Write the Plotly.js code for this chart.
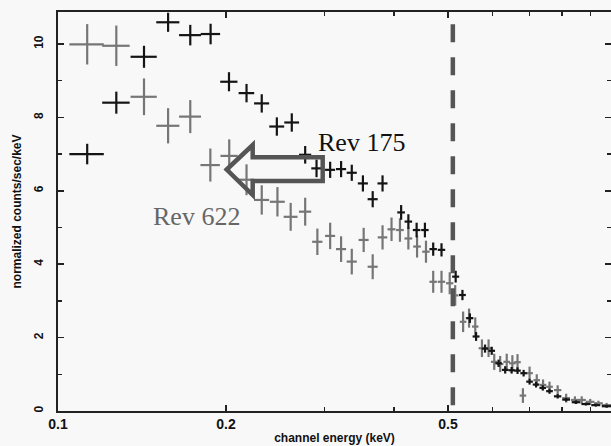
<!DOCTYPE html>
<html>
<head>
<meta charset="utf-8">
<script src="https://cdn.plot.ly/plotly-3.0.1.min.js"></script>
<style>html,body{margin:0;padding:0;background:#f8f8f8;}#chart{width:611px;height:446px;}</style>
</head>
<body>
<div id="chart"></div>
<script>
// Rev 175 (black)
const energy175 = [0.1128,0.1272,0.1426,0.1575,0.1726,0.1877,0.2025,0.2177,0.2318,0.2467,0.2624,0.2773,0.2906,0.3074,0.3216,0.3361,0.3519,0.3664,0.3816,0.4120,0.4245,0.4392,0.4545,0.4703,0.4867,0.5160,0.5306,0.5472,0.5613,0.5825,0.5988,0.6160,0.6330,0.6500,0.6660,0.6830,0.7000,0.7190,0.7390,0.7600,0.7860,0.8140,0.8480,0.8830,0.9200,0.9620];
const counts175 = [7.00,8.40,9.65,10.59,10.24,10.27,8.97,8.66,8.38,7.75,7.86,6.98,6.61,6.57,6.59,6.49,6.20,5.77,6.20,5.41,5.16,4.93,4.93,4.41,4.39,3.66,3.16,2.53,2.03,1.70,1.64,1.30,1.12,1.11,1.10,1.03,0.80,0.72,0.63,0.54,0.40,0.31,0.24,0.19,0.16,0.13];
const countsErr175 = [0.28,0.30,0.30,0.26,0.28,0.28,0.26,0.25,0.25,0.25,0.25,0.24,0.24,0.22,0.22,0.22,0.22,0.22,0.22,0.20,0.20,0.20,0.20,0.18,0.18,0.16,0.14,0.13,0.12,0.11,0.11,0.10,0.10,0.09,0.09,0.09,0.08,0.08,0.07,0.07,0.06,0.05,0.05,0.04,0.04,0.04];
const energyErr175 = [0.0080,0.0072,0.0077,0.0075,0.0078,0.0075,0.0072,0.0070,0.0072,0.0076,0.0080,0.0070,0.0062,0.0064,0.0067,0.0070,0.0073,0.0076,0.0079,0.0065,0.0066,0.0068,0.0070,0.0072,0.0075,0.0075,0.0075,0.0078,0.0080,0.0080,0.0082,0.0084,0.0086,0.0088,0.0090,0.0092,0.0095,0.0098,0.0100,0.0105,0.0120,0.0130,0.0150,0.0160,0.0170,0.0190];

// Rev 622 (grey)
const energy622 = [0.1128,0.1272,0.1426,0.1575,0.1726,0.1875,0.2027,0.2177,0.2318,0.2473,0.2612,0.2773,0.2916,0.3074,0.3216,0.3361,0.3530,0.3664,0.3816,0.3960,0.4100,0.4245,0.4400,0.4565,0.4703,0.4867,0.5035,0.5150,0.5321,0.5453,0.5594,0.5751,0.5910,0.6050,0.6200,0.6370,0.6520,0.6660,0.6810,0.7000,0.7210,0.7400,0.7600,0.7860,0.8140,0.8440,0.8680,0.8990,0.9300,0.9620];
const counts622 = [9.99,9.95,8.56,7.77,8.02,6.70,6.95,6.30,5.75,5.70,5.29,5.43,4.61,4.77,4.41,4.07,4.66,3.93,4.73,4.95,4.93,4.70,4.48,4.34,3.52,3.52,3.48,3.15,2.43,2.53,2.30,1.71,1.71,1.34,1.28,1.34,1.30,1.33,0.42,1.03,0.84,0.71,0.66,0.57,0.35,0.30,0.30,0.25,0.21,0.16];
const countsErr622 = [0.55,0.55,0.50,0.48,0.45,0.45,0.45,0.42,0.40,0.40,0.38,0.38,0.36,0.36,0.35,0.35,0.33,0.34,0.33,0.32,0.32,0.30,0.30,0.30,0.30,0.30,0.30,0.28,0.28,0.26,0.25,0.24,0.24,0.22,0.22,0.22,0.22,0.22,0.20,0.18,0.16,0.15,0.14,0.13,0.12,0.10,0.10,0.08,0.07,0.06];
const energyErr622 = [0.0080,0.0072,0.0077,0.0075,0.0078,0.0075,0.0072,0.0070,0.0072,0.0076,0.0075,0.0070,0.0062,0.0064,0.0067,0.0070,0.0073,0.0076,0.0075,0.0065,0.0065,0.0068,0.0070,0.0070,0.0072,0.0075,0.0075,0.0070,0.0072,0.0075,0.0075,0.0078,0.0080,0.0082,0.0084,0.0086,0.0088,0.0090,0.0092,0.0095,0.0098,0.0100,0.0105,0.0120,0.0130,0.0140,0.0150,0.0160,0.0170,0.0190];

const xTickVals = [0.1, 0.2, 0.5];
const xTickText = ['0.1', '0.2', '0.5'];
const xMinorVals = [0.3, 0.4, 0.6, 0.7, 0.8, 0.9];
const yTickVals = [0, 2, 4, 6, 8, 10];
const edgeEnergy = 0.51;
const label175 = 'Rev 175';
const label622 = 'Rev 622';

const BLACK = '#141414';
const GREY = '#767676';

function crossTrace(x, y, ex, ey, color) {
  return {
    type: 'scatter', mode: 'markers', x: x, y: y,
    marker: {size: 2, color: 'rgba(0,0,0,0)'},
    error_x: {type: 'data', array: ex, symmetric: true, color: color, thickness: 2.2, width: 0},
    error_y: {type: 'data', array: ey, symmetric: true, color: color, thickness: 2.2, width: 0},
    hoverinfo: 'skip', showlegend: false
  };
}

const data = [
  crossTrace(energy622, counts622, energyErr622, countsErr622, GREY),
  crossTrace(energy175, counts175, energyErr175, countsErr175, BLACK)
];

const W = 611, H = 446, L = 58, R = 0, T = 12, B = 35;
const pw = W - L - R, ph = H - T - B;
// helpers for annotation/arrow placement in paper units (decoration only)
const px = v => (v - L) / pw;
const py = v => (H - B - v) / ph;

const FONT = 'Liberation Sans, Arial, sans-serif';

const layout = {
  width: W, height: H,
  margin: {l: L, r: R, t: T, b: B, pad: 0},
  paper_bgcolor: '#f8f8f8', plot_bgcolor: '#f8f8f8',
  showlegend: false,
  xaxis: {
    type: 'log', range: [-1, -0.009],
    tickmode: 'array', tickvals: xTickVals, ticktext: xTickText,
    ticks: 'inside', ticklen: 6, tickwidth: 1.5, tickcolor: '#222',
    minor: {tickvals: xMinorVals, ticks: 'inside', ticklen: 4, tickwidth: 1.3, tickcolor: '#222', showgrid: false},
    showline: true, linecolor: '#222', linewidth: 1.8, mirror: 'allticks',
    showgrid: false, zeroline: false,
    tickfont: {family: FONT, size: 14, color: '#111', weight: 'bold'},
    ticklabelstandoff: -1,
    title: {text: 'channel energy (keV)', font: {family: FONT, size: 12, color: '#111', weight: 'bold'}, standoff: 3}
  },
  yaxis: {
    range: [0, 10.87],
    tickmode: 'array', tickvals: yTickVals,
    ticks: 'inside', ticklen: 6, tickwidth: 1.5, tickcolor: '#222',
    minor: {dtick: 1, ticks: 'inside', ticklen: 4, tickwidth: 1.3, tickcolor: '#222', showgrid: false},
    showline: true, linecolor: '#222', linewidth: 1.8, mirror: 'allticks',
    showgrid: false, zeroline: false,
    tickangle: -90,
    tickfont: {family: FONT, size: 12, color: '#111', weight: 'bold'},
    ticklabelstandoff: 8,
    title: {text: 'normalized counts/sec/keV', font: {family: FONT, size: 12, color: '#111', weight: 'bold'}, standoff: 8}
  },
  shapes: [
    {type: 'line', xref: 'x', yref: 'y', x0: edgeEnergy, x1: edgeEnergy, y0: 0.16, y1: 10.65,
     line: {color: '#555', width: 4.5, dash: '18px,15px'}},
    {type: 'path', xref: 'paper', yref: 'paper',
     path: 'M' + px(226.7) + ',' + py(169.5) +
           ' L' + px(252.7) + ',' + py(145) +
           ' L' + px(252.7) + ',' + py(157.3) +
           ' L' + px(322.7) + ',' + py(157.3) +
           ' L' + px(322.7) + ',' + py(181) +
           ' L' + px(252.7) + ',' + py(181) +
           ' L' + px(252.7) + ',' + py(195) + ' Z',
     line: {color: '#555', width: 4.5}, fillcolor: 'rgba(0,0,0,0)'}
  ],
  annotations: [
    {xref: 'paper', yref: 'paper', x: px(361), y: py(142), xanchor: 'center', yanchor: 'middle', showarrow: false,
     text: label175, font: {family: 'Liberation Serif, Times New Roman, serif', size: 26, color: '#111'}},
    {xref: 'paper', yref: 'paper', x: px(196), y: py(216), xanchor: 'center', yanchor: 'middle', showarrow: false,
     text: label622, font: {family: 'Liberation Serif, Times New Roman, serif', size: 26, color: '#666'}}
  ]
};

Plotly.newPlot('chart', data, layout, {displayModeBar: false, staticPlot: true});
</script>
</body>
</html>
